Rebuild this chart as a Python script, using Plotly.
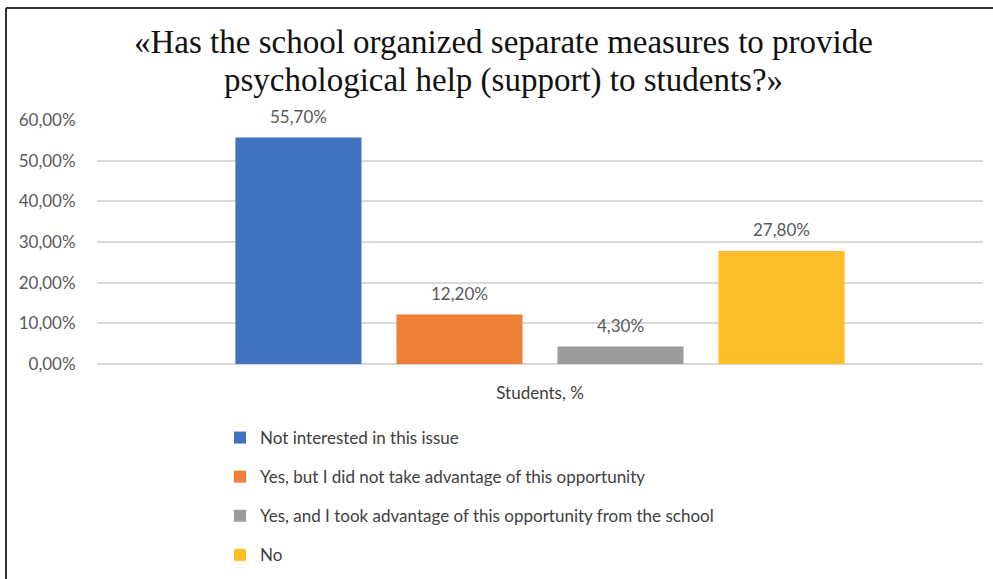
import plotly.graph_objects as go

categories = ["Students, %"]
series_names = [
    "Not interested in this issue",
    "Yes, but I did not take advantage of this opportunity",
    "Yes, and I took advantage of this opportunity from the school",
    "No",
]
series_values = [0.557, 0.122, 0.043, 0.278]
colors = ["#4172BD", "#EF7F37", "#9B9C9D", "#FCBE2B"]
title_lines = [
    "«Has the school organized separate measures to provide",
    "psychological help (support) to students?»",
]

W, H = 993, 579
ML, MR, MT, MB = 97, 10, 120, 215
PW, PH = W - ML - MR, H - MT - MB
BARGAP, BARGROUPGAP = 0.273, 0.217


def px_x(p):
    return (p - ML) / PW


def px_y(p):
    return (H - MB - p) / PH


fig = go.Figure()
for name, val, col in zip(series_names, series_values, colors):
    fig.add_trace(go.Bar(
        x=categories, y=[val], name=name, marker_color=col,
        marker_line_width=0, legendgroup=name,
        hovertemplate="%{y:.2%}<extra>" + name + "</extra>",
    ))

annotations = []
for i, line in enumerate(title_lines):
    annotations.append(dict(
        text=line, xref="paper", yref="paper", x=px_x(503), y=px_y(42 + 38 * i),
        xanchor="center", yanchor="middle", showarrow=False,
        font=dict(family="Liberation Serif", size=33, color="#111111"),
    ))

# data labels above the grouped bars, placed in the category axis' own units
n = len(series_values)
slot = (1 - BARGAP) / n
for i, val in enumerate(series_values):
    xc = -(1 - BARGAP) / 2 + (i + 0.5) * slot
    label = f"{val * 100:.2f}%".replace(".", ",")
    annotations.append(dict(
        text=label, xref="x", yref="y", x=xc, y=val, xanchor="center", yanchor="middle",
        yshift=21, showarrow=False, font=dict(family="Lato", size=17, color="#595959"),
    ))

fig.update_layout(
    width=W, height=H,
    margin=dict(l=ML, r=MR, t=MT, b=MB, autoexpand=False),
    paper_bgcolor="white", plot_bgcolor="white",
    separators=",.",
    barmode="group", bargap=BARGAP, bargroupgap=BARGROUPGAP,
    font=dict(family="Lato", size=17, color="#595959"),
    showlegend=True,
    legend=dict(orientation="v", x=px_x(220), xanchor="left", y=px_y(H - MB + 56), yanchor="top",
                font=dict(family="Lato", size=17, color="#404040"),
                tracegroupgap=14, itemwidth=30, bgcolor="rgba(0,0,0,0)"),
    xaxis=dict(showline=False, ticks="outside", ticklen=14, tickcolor="rgba(0,0,0,0)",
               automargin=False,
               tickfont=dict(family="Lato", size=17, color="#404040")),
    yaxis=dict(range=[0, 0.6], dtick=0.1, tickformat=".2%", showgrid=True,
               gridcolor="#D9D9D9", gridwidth=1.5, zeroline=True, zerolinecolor="#D9D9D9",
               zerolinewidth=1.5, ticks="outside", ticklen=17, tickcolor="rgba(0,0,0,0)",
               automargin=False,
               tickfont=dict(family="Lato", size=17, color="#595959")),
    annotations=annotations,
    shapes=[
        dict(type="line", xref="paper", yref="paper", x0=px_x(6), x1=px_x(W + 5),
             y0=px_y(8), y1=px_y(8), line=dict(color="#333333", width=2)),
        dict(type="line", xref="paper", yref="paper", x0=px_x(6), x1=px_x(6),
             y0=px_y(8), y1=px_y(H + 5), line=dict(color="#333333", width=2)),
    ],
)

fig.write_html("out.html", config={"displayModeBar": False},
               post_script="document.body.style.margin='0';")
